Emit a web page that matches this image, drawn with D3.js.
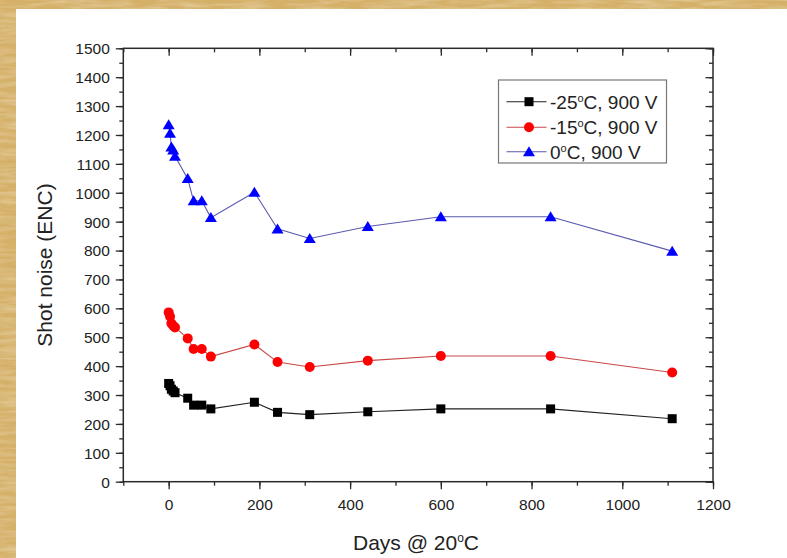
<!DOCTYPE html>
<html><head><meta charset="utf-8">
<script src="https://cdn.jsdelivr.net/npm/d3@7"></script>
<style>body{margin:0;padding:0;background:#fff;} svg{display:block;}</style>
</head><body>
<script>
const days = [0, 3, 6, 10, 14, 42, 55, 73, 93, 189, 240, 311, 439, 600, 842, 1110];
const noiseM25 = [340, 332, 320, 314, 308, 289, 265, 265, 252, 275, 240, 232, 242, 252, 252, 218];
const noiseM15 = [586, 572, 548, 540, 534, 496, 459, 459, 433, 475, 414, 397, 419, 435, 435, 378];
const noise0   = [1235, 1206, 1158, 1148, 1126, 1049, 972, 972, 914, 1002, 875, 842, 883, 917, 917, 798];
const seriesNames = ["-25", "-15", "0"];
const xTicks = [0, 200, 400, 600, 800, 1000, 1200];
const yTicks = [0,100,200,300,400,500,600,700,800,900,1000,1100,1200,1300,1400,1500];

const W = 787, H = 558;
const svg = d3.select("body").append("svg").attr("width", W).attr("height", H);
const defs = svg.append("defs");
const f = defs.append("filter").attr("id","paper").attr("x",0).attr("y",0).attr("width","100%").attr("height","100%");
f.append("feTurbulence").attr("type","fractalNoise").attr("baseFrequency","0.03 0.25").attr("numOctaves",3).attr("seed",4).attr("result","n");
f.append("feColorMatrix").attr("in","n").attr("type","matrix")
 .attr("values","0 0 0 0 0.93  0 0 0 0 0.82  0 0 0 0 0.55  0 0 0 0.7 -0.25").attr("result","c");
f.append("feComposite").attr("in","c").attr("in2","SourceGraphic").attr("operator","atop");

svg.append("rect").attr("width",W).attr("height",H).attr("fill","#d5b068").attr("filter","url(#paper)");
svg.append("rect").attr("x",16).attr("y",9).attr("width",W-16).attr("height",H-9).attr("fill","#ffffff");

const L = 123.3, R = 713, T = 48.3, B = 481.7;
const x = d3.scaleLinear().domain([-100, 1200]).range([L, R]);
const y = d3.scaleLinear().domain([0, 1500]).range([B, T]);
const axisColor = "#2a2a2a";
const font = "Arial, 'Liberation Sans', sans-serif";

const g = svg.append("g");
const xMinor = d3.range(-100, 1201, 100);
const yMinor = d3.range(0, 1501, 50);

g.append("g").attr("transform",`translate(0,${B})`)
  .call(d3.axisBottom(x).tickValues(xMinor).tickSize(4).tickFormat(""));
const xbMaj = g.append("g").attr("transform",`translate(0,${B})`)
  .call(d3.axisBottom(x).tickValues(xTicks).tickSize(7.5).tickPadding(6).tickFormat(d3.format("d")));
g.append("g").attr("transform",`translate(0,${T})`)
  .call(d3.axisBottom(x).tickValues(xMinor).tickSize(4).tickFormat(""));
g.append("g").attr("transform",`translate(0,${T})`)
  .call(d3.axisBottom(x).tickValues(xTicks).tickSize(7.5).tickFormat(""));
g.append("g").attr("transform",`translate(${L},0)`)
  .call(d3.axisLeft(y).tickValues(yMinor).tickSize(4).tickFormat(""));
const ylMaj = g.append("g").attr("transform",`translate(${L},0)`)
  .call(d3.axisLeft(y).tickValues(yTicks).tickSize(7.5).tickPadding(6).tickFormat(d3.format("d")));
g.append("g").attr("transform",`translate(${R},0)`)
  .call(d3.axisLeft(y).tickValues(yMinor).tickSize(4).tickFormat(""));
g.append("g").attr("transform",`translate(${R},0)`)
  .call(d3.axisLeft(y).tickValues(yTicks).tickSize(7.5).tickFormat(""));

g.selectAll(".domain").remove();
g.selectAll(".tick line").attr("stroke", axisColor).attr("stroke-width", 1.3);
g.selectAll(".tick text").attr("fill","#222").style("font-family",font).style("font-size","15.5px");
xbMaj.selectAll(".tick text").attr("dy","0.95em");
ylMaj.selectAll(".tick text").attr("dy","0.35em");

g.append("rect").attr("x",L).attr("y",T).attr("width",R-L).attr("height",B-T)
  .attr("fill","none").attr("stroke",axisColor).attr("stroke-width",1.5);

const sets = [
  {vals: noiseM25, line:"#222222", fill:"#000000", shape:"square"},
  {vals: noiseM15, line:"#c84848", fill:"#ff0000", shape:"circle"},
  {vals: noise0,   line:"#5a5aae", fill:"#0000ff", shape:"triangle"}
];
const lineGen = d3.line().x(d=>x(d[0])).y(d=>y(d[1]));
function marker(sel, shape, fill, cx, cy){
  if(shape==="square") sel.append("rect").attr("x",cx-4.5).attr("y",cy-4.5).attr("width",9).attr("height",9).attr("fill",fill);
  else if(shape==="circle") sel.append("circle").attr("cx",cx).attr("cy",cy).attr("r",5).attr("fill",fill);
  else sel.append("path").attr("d",`M${cx},${cy-5.5}L${cx+6},${cy+4.5}L${cx-6},${cy+4.5}Z`).attr("fill",fill);
}
sets.forEach(s=>{
  const pts = days.map((d,i)=>[d, s.vals[i]]);
  g.append("path").attr("d",lineGen(pts)).attr("fill","none").attr("stroke",s.line).attr("stroke-width",1.1);
  const mg = g.append("g");
  pts.forEach(p=>marker(mg, s.shape, s.fill, x(p[0]), y(p[1])));
});

const lg = svg.append("g");
lg.append("rect").attr("x",498.5).attr("y",80).attr("width",168).attr("height",83)
  .attr("fill","#fff").attr("stroke","#777").attr("stroke-width",1.2);
const rowsY = [101.7, 127.3, 151.7];
sets.forEach((s,i)=>{
  const yy = rowsY[i];
  lg.append("line").attr("x1",506.5).attr("x2",546.5).attr("y1",yy).attr("y2",yy).attr("stroke",s.line).attr("stroke-width",1.1);
  marker(lg, s.shape, s.fill, 529, yy);
  const t = lg.append("text").attr("x",550).attr("y",yy+7).attr("fill","#222")
    .style("font-family",font).style("font-size","19px");
  t.append("tspan").text(seriesNames[i]);
  t.append("tspan").attr("dy","-7").style("font-size","11px").text("o");
  t.append("tspan").attr("dy","7").text("C, 900 V");
});

const xt2 = svg.append("text").attr("x", 416).attr("y", 550).attr("text-anchor","middle").attr("fill","#222")
  .style("font-family",font).style("font-size","21px");
xt2.append("tspan").text("Days @ 20");
xt2.append("tspan").attr("dy","-8").style("font-size","12px").text("o");
xt2.append("tspan").attr("dy","8").text("C");

svg.append("text").attr("transform","translate(52,265) rotate(-90)").attr("text-anchor","middle").attr("fill","#222")
  .style("font-family",font).style("font-size","21px").text("Shot noise (ENC)");
</script>
</body></html>
